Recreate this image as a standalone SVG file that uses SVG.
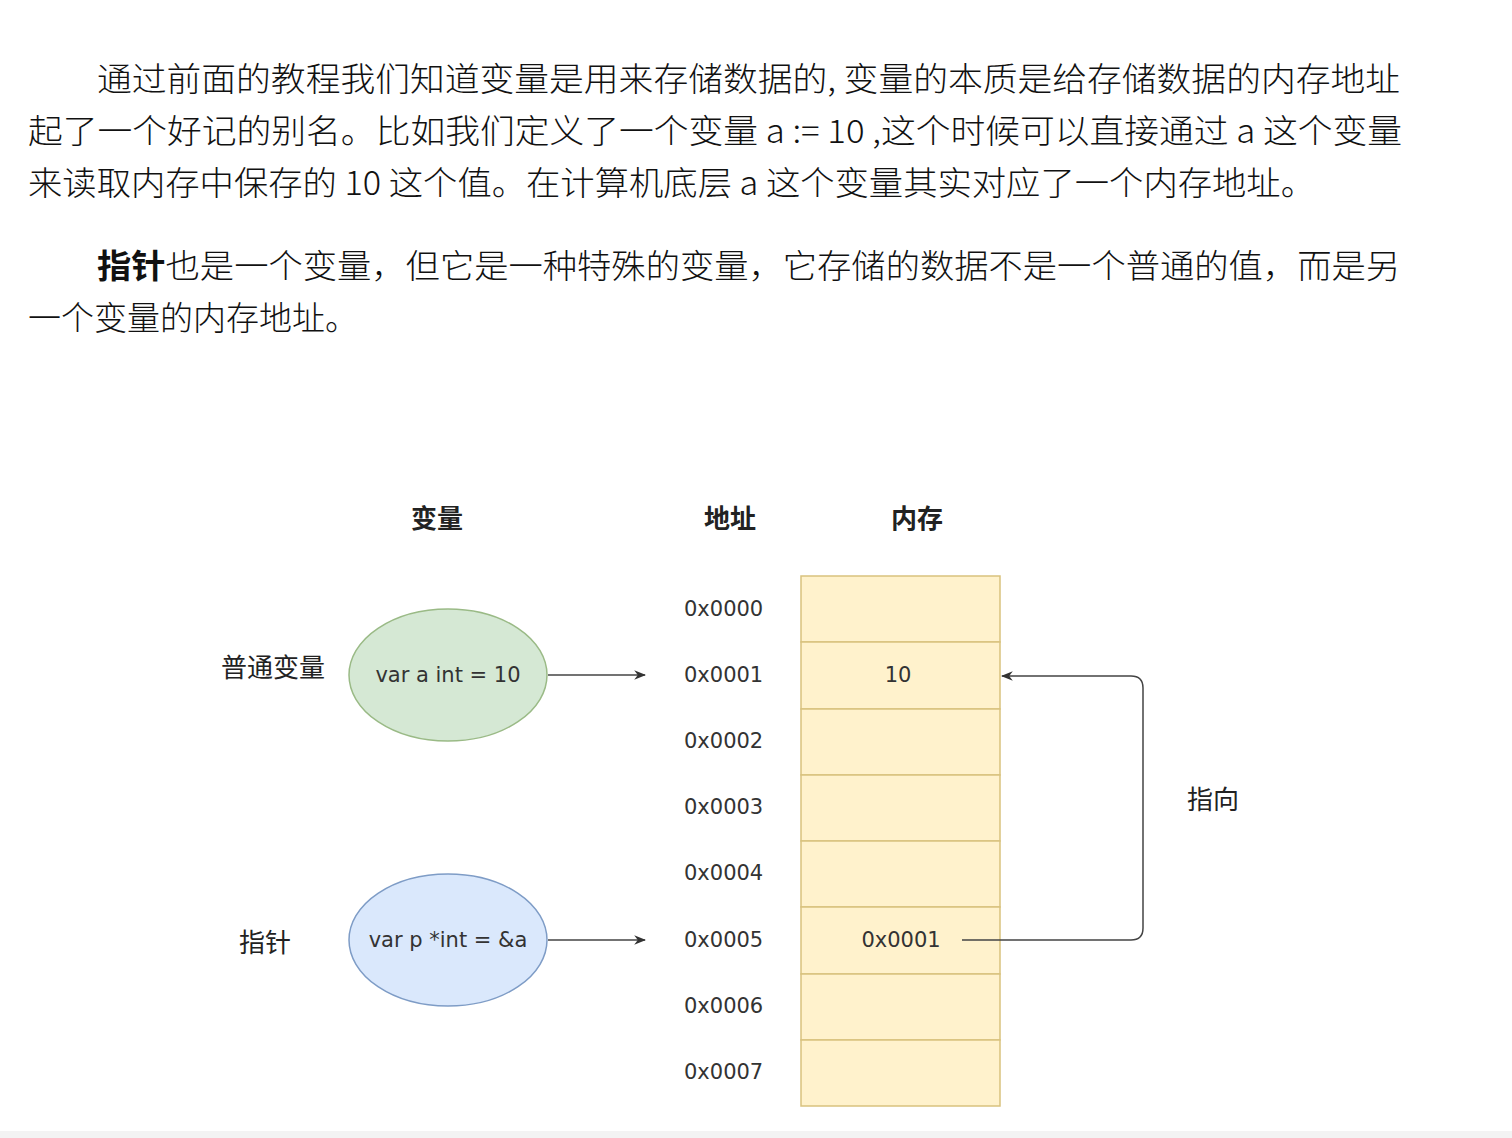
<svg xmlns="http://www.w3.org/2000/svg" width="1512" height="1138" viewBox="0 0 1512 1138">
<defs>
<style>
.p{font-family:"Noto Sans CJK SC","Liberation Sans",sans-serif;font-size:33px;font-weight:300;fill:#111;}
.h{font-family:"Noto Sans CJK SC",sans-serif;font-size:26px;font-weight:bold;fill:#222;text-anchor:middle;}
.lab{font-family:"Noto Sans CJK SC",sans-serif;font-size:26px;fill:#222;text-anchor:middle;}
.addr{font-family:"DejaVu Sans",sans-serif;font-size:21px;fill:#333;}
.code{font-family:"DejaVu Sans",sans-serif;font-size:21px;fill:#333;text-anchor:middle;}
.cell{fill:#fff2cc;stroke:#d9c27e;stroke-width:1.5;}
.conn{fill:none;stroke:#444;stroke-width:1.5;}
</style>
<marker id="arr" viewBox="0 0 10 10" refX="9" refY="5" markerWidth="12" markerHeight="12" markerUnits="userSpaceOnUse" orient="auto">
<path d="M0,1 L10,5 L0,9 L3,5 Z" fill="#333"/>
</marker>
</defs>
<rect width="1512" height="1138" fill="#fff"/>
<rect y="1131" width="1512" height="7" fill="#f3f3f3"/>
<g id="text">
<text class="p" x="97" y="91" textLength="1303" lengthAdjust="spacingAndGlyphs">通过前面的教程我们知道变量是用来存储数据的, 变量的本质是给存储数据的内存地址</text>
<text class="p" x="28" y="143" textLength="1374" lengthAdjust="spacingAndGlyphs">起了一个好记的别名。比如我们定义了一个变量  a := 10 ,这个时候可以直接通过 a 这个变量</text>
<text class="p" x="28" y="195" textLength="1287" lengthAdjust="spacingAndGlyphs">来读取内存中保存的 10 这个值。在计算机底层 a 这个变量其实对应了一个内存地址。</text>
<text class="p" x="97" y="278" textLength="1303" lengthAdjust="spacingAndGlyphs"><tspan font-weight="bold">指针</tspan>也是一个变量，但它是一种特殊的变量，它存储的数据不是一个普通的值，而是另</text>
<text class="p" x="28" y="330" textLength="330" lengthAdjust="spacingAndGlyphs">一个变量的内存地址。</text>
</g>
<g id="headers">
<text class="h" x="437" y="528">变量</text>
<text class="h" x="730" y="528">地址</text>
<text class="h" x="917" y="528">内存</text>
</g>
<g id="memory">
<rect class="cell" x="801" y="576" width="199" height="66"/>
<rect class="cell" x="801" y="642" width="199" height="67"/>
<rect class="cell" x="801" y="709" width="199" height="66"/>
<rect class="cell" x="801" y="775" width="199" height="66"/>
<rect class="cell" x="801" y="841" width="199" height="66"/>
<rect class="cell" x="801" y="907" width="199" height="67"/>
<rect class="cell" x="801" y="974" width="199" height="66"/>
<rect class="cell" x="801" y="1040" width="199" height="66"/>
<text class="code" x="898" y="682">10</text>
<text class="code" x="901" y="947">0x0001</text>
</g>
<g id="addresses">
<text class="addr" x="684" y="616">0x0000</text>
<text class="addr" x="684" y="682">0x0001</text>
<text class="addr" x="684" y="748">0x0002</text>
<text class="addr" x="684" y="814">0x0003</text>
<text class="addr" x="684" y="880">0x0004</text>
<text class="addr" x="684" y="947">0x0005</text>
<text class="addr" x="684" y="1013">0x0006</text>
<text class="addr" x="684" y="1079">0x0007</text>
</g>
<g id="var-a">
<ellipse cx="448" cy="675" rx="99" ry="66" fill="#d5e8d4" stroke="#9aba86" stroke-width="1.5"/>
<text class="code" x="448" y="682">var a int = 10</text>
</g>
<g id="var-p">
<ellipse cx="448" cy="940" rx="99" ry="66" fill="#dae8fc" stroke="#7e9cc6" stroke-width="1.5"/>
<text class="code" x="448" y="947">var p *int = &amp;a</text>
</g>
<g id="labels">
<text class="lab" x="273" y="677">普通变量</text>
<text class="lab" x="265" y="952">指针</text>
<text class="lab" x="1213" y="809">指向</text>
</g>
<g id="connectors">
<line class="conn" x1="548" y1="675" x2="645" y2="675" marker-end="url(#arr)"/>
<line class="conn" x1="548" y1="940" x2="645" y2="940" marker-end="url(#arr)"/>
<path class="conn" d="M962,940 H1131 Q1143,940 1143,928 V688 Q1143,676 1131,676 H1002" marker-end="url(#arr)"/>
</g>
</svg>
